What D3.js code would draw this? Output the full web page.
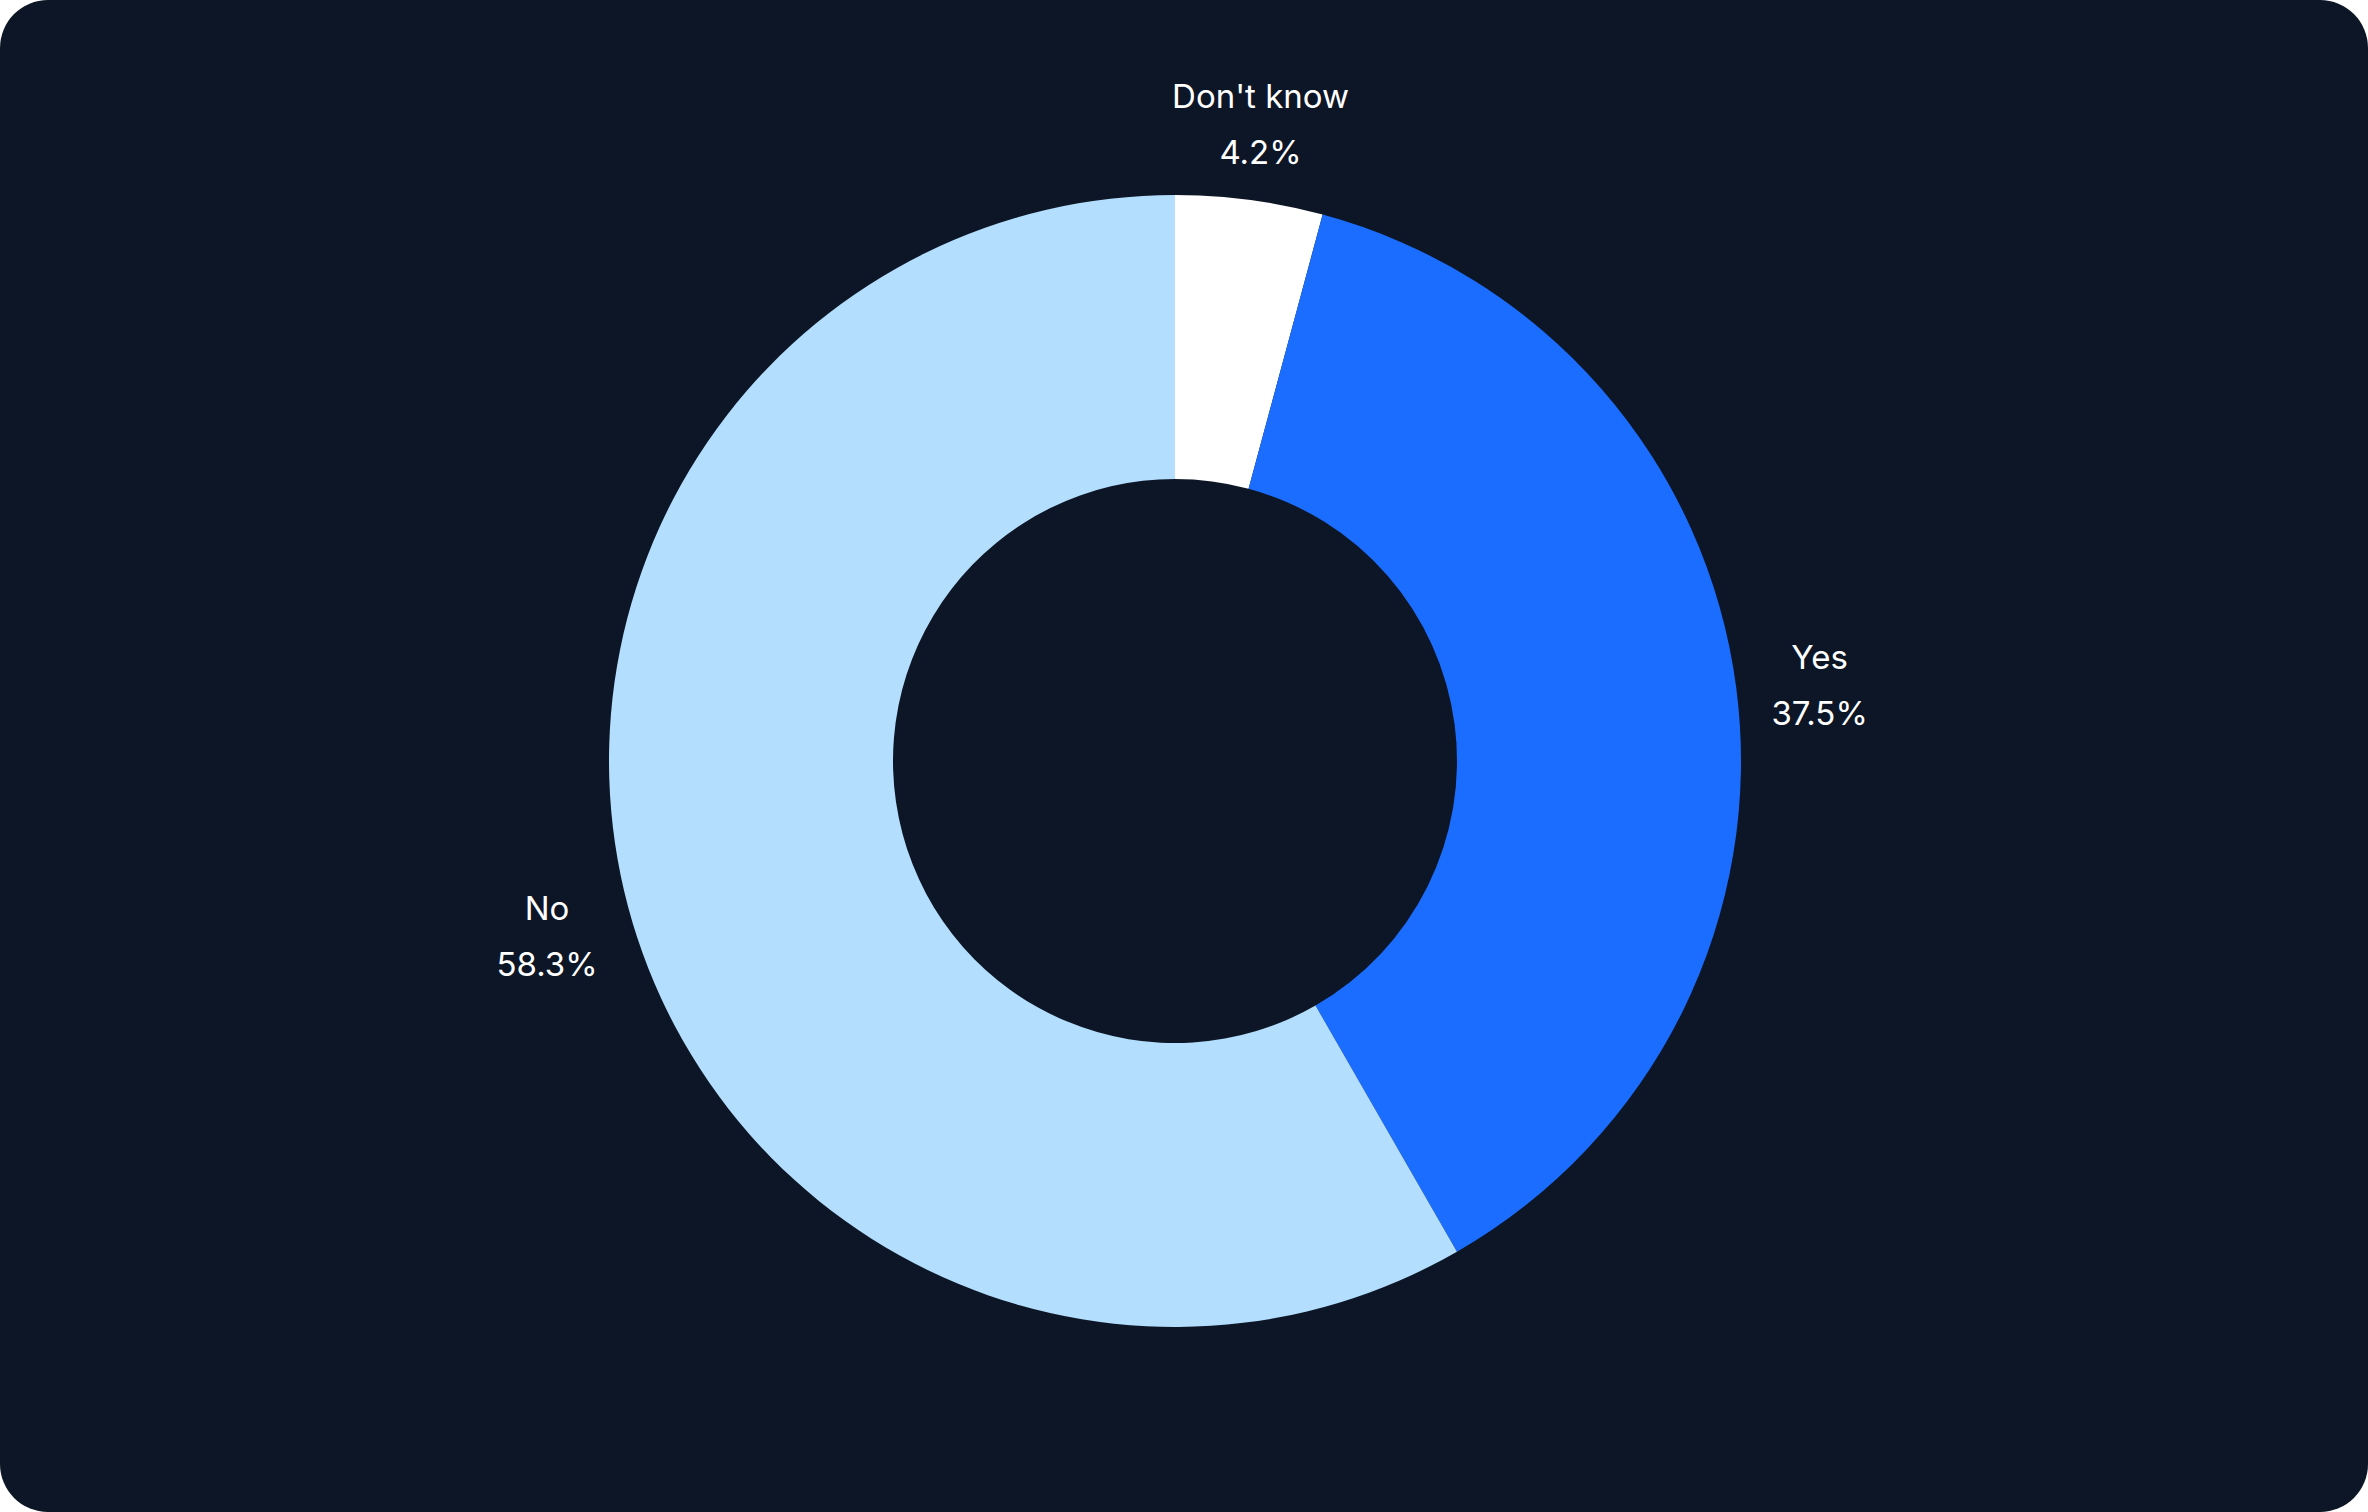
<!DOCTYPE html>
<html><head><meta charset="utf-8">
<script src="https://cdn.jsdelivr.net/npm/d3@7"></script>
<style>body{margin:0;background:#fff}</style>
</head><body>
<svg id="chart" width="2368" height="1512"></svg>
<script>
const categories = ["Don't know", "Yes", "No"];
const values = [4.2, 37.5, 58.3];
const colors = ["#ffffff", "#1b6dff", "#b3defd"];

const width = 2368, height = 1512;
const cx = 1175, cy = 761;
const outerR = 566, innerR = 282, labelR = 650;

const svg = d3.select("#chart");
svg.append("rect").attr("width", width).attr("height", height)
  .attr("rx", 48).attr("fill", "#0d1626");

const data = categories.map((c, i) => ({cat: c, val: values[i], color: colors[i]}));
const pie = d3.pie().value(d => d.val).sort(null);
const arc = d3.arc().innerRadius(innerR).outerRadius(outerR);
const labelArc = d3.arc().innerRadius(labelR).outerRadius(labelR);

const g = svg.append("g").attr("transform", `translate(${cx},${cy})`);
const arcs = pie(data);

g.selectAll("path").data(arcs).enter().append("path")
  .attr("d", arc).attr("fill", d => d.data.color);

const labels = g.selectAll("text.lbl").data(arcs).enter().append("text")
  .attr("class", "lbl")
  .attr("transform", d => `translate(${labelArc.centroid(d)})`)
  .attr("text-anchor", "middle")
  .attr("fill", "#ffffff")
  .style("font-family", "Inter, 'DejaVu Sans', sans-serif")
  .style("font-size", "33px");
labels.append("tspan").attr("x", 0).attr("dy", "-0.25em").text(d => d.data.cat);
labels.append("tspan").attr("x", 0).attr("dy", "1.7em").text(d => d.data.val.toFixed(1) + "%");
</script>
</body></html>
